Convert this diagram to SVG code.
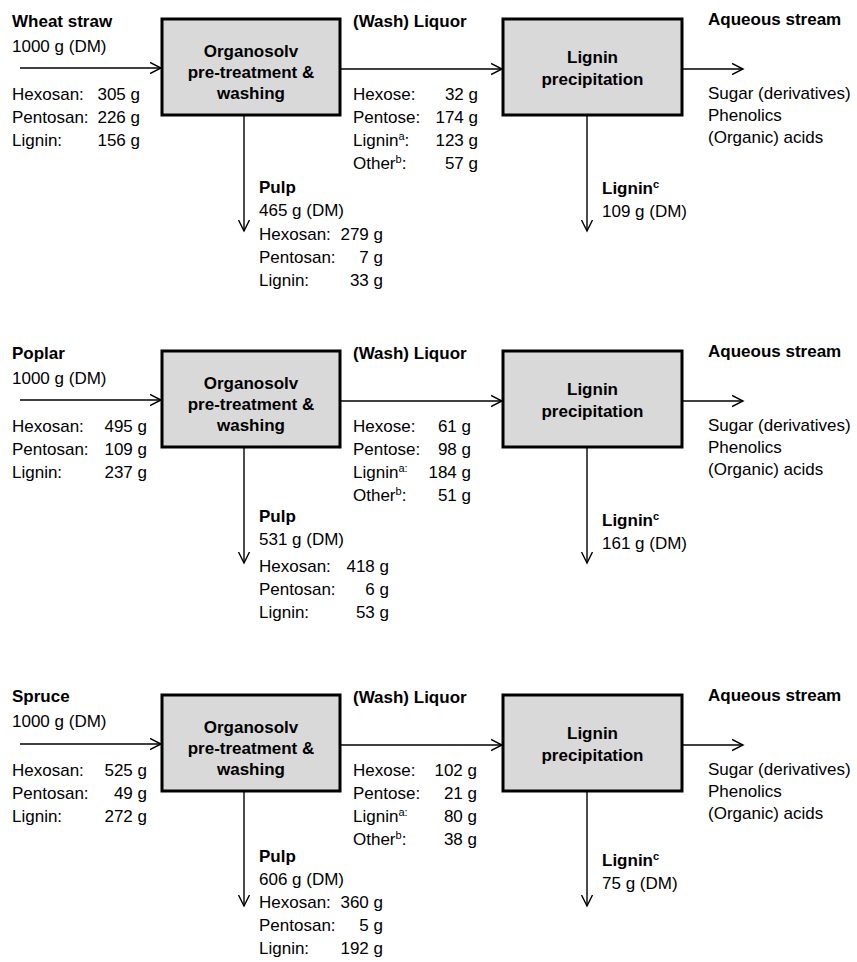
<svg xmlns="http://www.w3.org/2000/svg" width="857" height="962" viewBox="0 0 857 962">
<defs>
<marker id="ah" markerUnits="userSpaceOnUse" markerWidth="16" markerHeight="14" refX="11" refY="6" orient="auto" viewBox="0 0 16 12">
<path d="M0,0.5 L11,6 L0,11.5" fill="none" stroke="#000" stroke-width="1.4"/>
</marker>
</defs>
<style>
text{font-family:"Liberation Sans",Arial,sans-serif;font-size:17px;fill:#000}
.b{font-weight:bold}
.m{text-anchor:middle}
.e{text-anchor:end}
.box{fill:#d9d9d9;stroke:#000;stroke-width:3}
.c{fill:none;stroke:#000;stroke-width:1.4;marker-end:url(#ah)}
.sup{font-size:11px}
</style>
<rect width="857" height="962" fill="#fff"/>
<g id="connectors">
<path class="c" d="M20,68 H161"/>
<path class="c" d="M340,69 H502"/>
<path class="c" d="M682,69 H743"/>
<path class="c" d="M244,115 V231"/>
<path class="c" d="M587,115 V231"/>
<path class="c" d="M20,400 H161"/>
<path class="c" d="M340,401 H502"/>
<path class="c" d="M682,401 H743"/>
<path class="c" d="M244,447 V563"/>
<path class="c" d="M587,447 V563"/>
<path class="c" d="M20,744 H161"/>
<path class="c" d="M340,745 H502"/>
<path class="c" d="M682,745 H743"/>
<path class="c" d="M244,791 V906"/>
<path class="c" d="M587,791 V906"/>
</g>
<!-- Wheat straw section -->
<g id="wheat-feed">
<text class="b" x="12" y="27">Wheat straw</text>
<text x="12" y="52">1000 g (DM)</text>
<text x="12" y="100">Hexosan:</text><text class="e" x="140" y="100">305 g</text>
<text x="12" y="123">Pentosan:</text><text class="e" x="140" y="123">226 g</text>
<text x="12" y="146">Lignin:</text><text class="e" x="140" y="146">156 g</text>
</g>
<g id="wheat-organosolv">
<rect class="box" x="162" y="19" width="178" height="96"/>
<text class="b m" x="251" y="57">Organosolv</text>
<text class="b m" x="251" y="78">pre-treatment &amp;</text>
<text class="b m" x="251" y="99">washing</text>
</g>
<g id="wheat-liquor">
<text class="b" x="353" y="27">(Wash) Liquor</text>
<text x="353" y="100">Hexose:</text><text class="e" x="478" y="100">32 g</text>
<text x="353" y="123">Pentose:</text><text class="e" x="478" y="123">174 g</text>
<text x="353" y="146">Lignin<tspan class="sup" dy="-6">a</tspan><tspan dy="6">:</tspan></text><text class="e" x="478" y="146">123 g</text>
<text x="353" y="169">Other<tspan class="sup" dy="-6">b</tspan><tspan dy="6">:</tspan></text><text class="e" x="478" y="169">57 g</text>
</g>
<g id="wheat-precipitation">
<rect class="box" x="503" y="19" width="179" height="96"/>
<text class="b m" x="592.5" y="63">Lignin</text>
<text class="b m" x="592.5" y="85">precipitation</text>
</g>
<g id="wheat-aqueous">
<text class="b" x="708" y="25">Aqueous stream</text>
<text x="708" y="99">Sugar (derivatives)</text>
<text x="708" y="121">Phenolics</text>
<text x="708" y="143">(Organic) acids</text>
</g>
<g id="wheat-pulp">
<text class="b" x="259" y="193">Pulp</text>
<text x="259" y="216">465 g (DM)</text>
<text x="259" y="240">Hexosan:</text><text class="e" x="383" y="240">279 g</text>
<text x="259" y="263">Pentosan:</text><text class="e" x="383" y="263">7 g</text>
<text x="259" y="286">Lignin:</text><text class="e" x="383" y="286">33 g</text>
</g>
<g id="wheat-lignin">
<text class="b" x="602" y="194">Lignin<tspan class="sup" dy="-6">c</tspan></text>
<text x="602" y="217">109 g (DM)</text>
</g>
<!-- Poplar section -->
<g id="poplar-feed">
<text class="b" x="12" y="359">Poplar</text>
<text x="12" y="384">1000 g (DM)</text>
<text x="12" y="432">Hexosan:</text><text class="e" x="147" y="432">495 g</text>
<text x="12" y="455">Pentosan:</text><text class="e" x="147" y="455">109 g</text>
<text x="12" y="478">Lignin:</text><text class="e" x="147" y="478">237 g</text>
</g>
<g id="poplar-organosolv">
<rect class="box" x="162" y="351" width="178" height="96"/>
<text class="b m" x="251" y="389">Organosolv</text>
<text class="b m" x="251" y="410">pre-treatment &amp;</text>
<text class="b m" x="251" y="431">washing</text>
</g>
<g id="poplar-liquor">
<text class="b" x="353" y="359">(Wash) Liquor</text>
<text x="353" y="432">Hexose:</text><text class="e" x="471" y="432">61 g</text>
<text x="353" y="455">Pentose:</text><text class="e" x="471" y="455">98 g</text>
<text x="353" y="478">Lignin<tspan class="sup" dy="-6">a:</tspan></text><text class="e" x="471" y="478">184 g</text>
<text x="353" y="501">Other<tspan class="sup" dy="-6">b</tspan><tspan dy="6">:</tspan></text><text class="e" x="471" y="501">51 g</text>
</g>
<g id="poplar-precipitation">
<rect class="box" x="503" y="351" width="179" height="96"/>
<text class="b m" x="592.5" y="395">Lignin</text>
<text class="b m" x="592.5" y="417">precipitation</text>
</g>
<g id="poplar-aqueous">
<text class="b" x="708" y="357">Aqueous stream</text>
<text x="708" y="431">Sugar (derivatives)</text>
<text x="708" y="453">Phenolics</text>
<text x="708" y="475">(Organic) acids</text>
</g>
<g id="poplar-pulp">
<text class="b" x="259" y="522">Pulp</text>
<text x="259" y="545">531 g (DM)</text>
<text x="259" y="572">Hexosan:</text><text class="e" x="389" y="572">418 g</text>
<text x="259" y="595">Pentosan:</text><text class="e" x="389" y="595">6 g</text>
<text x="259" y="618">Lignin:</text><text class="e" x="389" y="618">53 g</text>
</g>
<g id="poplar-lignin">
<text class="b" x="602" y="526">Lignin<tspan class="sup" dy="-6">c</tspan></text>
<text x="602" y="549">161 g (DM)</text>
</g>
<!-- Spruce section -->
<g id="spruce-feed">
<text class="b" x="12" y="702">Spruce</text>
<text x="12" y="727">1000 g (DM)</text>
<text x="12" y="776">Hexosan:</text><text class="e" x="147" y="776">525 g</text>
<text x="12" y="799">Pentosan:</text><text class="e" x="147" y="799">49 g</text>
<text x="12" y="822">Lignin:</text><text class="e" x="147" y="822">272 g</text>
</g>
<g id="spruce-organosolv">
<rect class="box" x="162" y="695" width="178" height="96"/>
<text class="b m" x="251" y="733">Organosolv</text>
<text class="b m" x="251" y="754">pre-treatment &amp;</text>
<text class="b m" x="251" y="775">washing</text>
</g>
<g id="spruce-liquor">
<text class="b" x="353" y="703">(Wash) Liquor</text>
<text x="353" y="776">Hexose:</text><text class="e" x="477" y="776">102 g</text>
<text x="353" y="799">Pentose:</text><text class="e" x="477" y="799">21 g</text>
<text x="353" y="822">Lignin<tspan class="sup" dy="-6">a:</tspan></text><text class="e" x="477" y="822">80 g</text>
<text x="353" y="845">Other<tspan class="sup" dy="-6">b</tspan><tspan dy="6">:</tspan></text><text class="e" x="477" y="845">38 g</text>
</g>
<g id="spruce-precipitation">
<rect class="box" x="503" y="695" width="179" height="96"/>
<text class="b m" x="592.5" y="739">Lignin</text>
<text class="b m" x="592.5" y="761">precipitation</text>
</g>
<g id="spruce-aqueous">
<text class="b" x="708" y="701">Aqueous stream</text>
<text x="708" y="775">Sugar (derivatives)</text>
<text x="708" y="797">Phenolics</text>
<text x="708" y="819">(Organic) acids</text>
</g>
<g id="spruce-pulp">
<text class="b" x="259" y="862">Pulp</text>
<text x="259" y="885">606 g (DM)</text>
<text x="259" y="908">Hexosan:</text><text class="e" x="383" y="908">360 g</text>
<text x="259" y="931">Pentosan:</text><text class="e" x="383" y="931">5 g</text>
<text x="259" y="954">Lignin:</text><text class="e" x="383" y="954">192 g</text>
</g>
<g id="spruce-lignin">
<text class="b" x="602" y="866">Lignin<tspan class="sup" dy="-6">c</tspan></text>
<text x="602" y="889">75 g (DM)</text>
</g>
</svg>
